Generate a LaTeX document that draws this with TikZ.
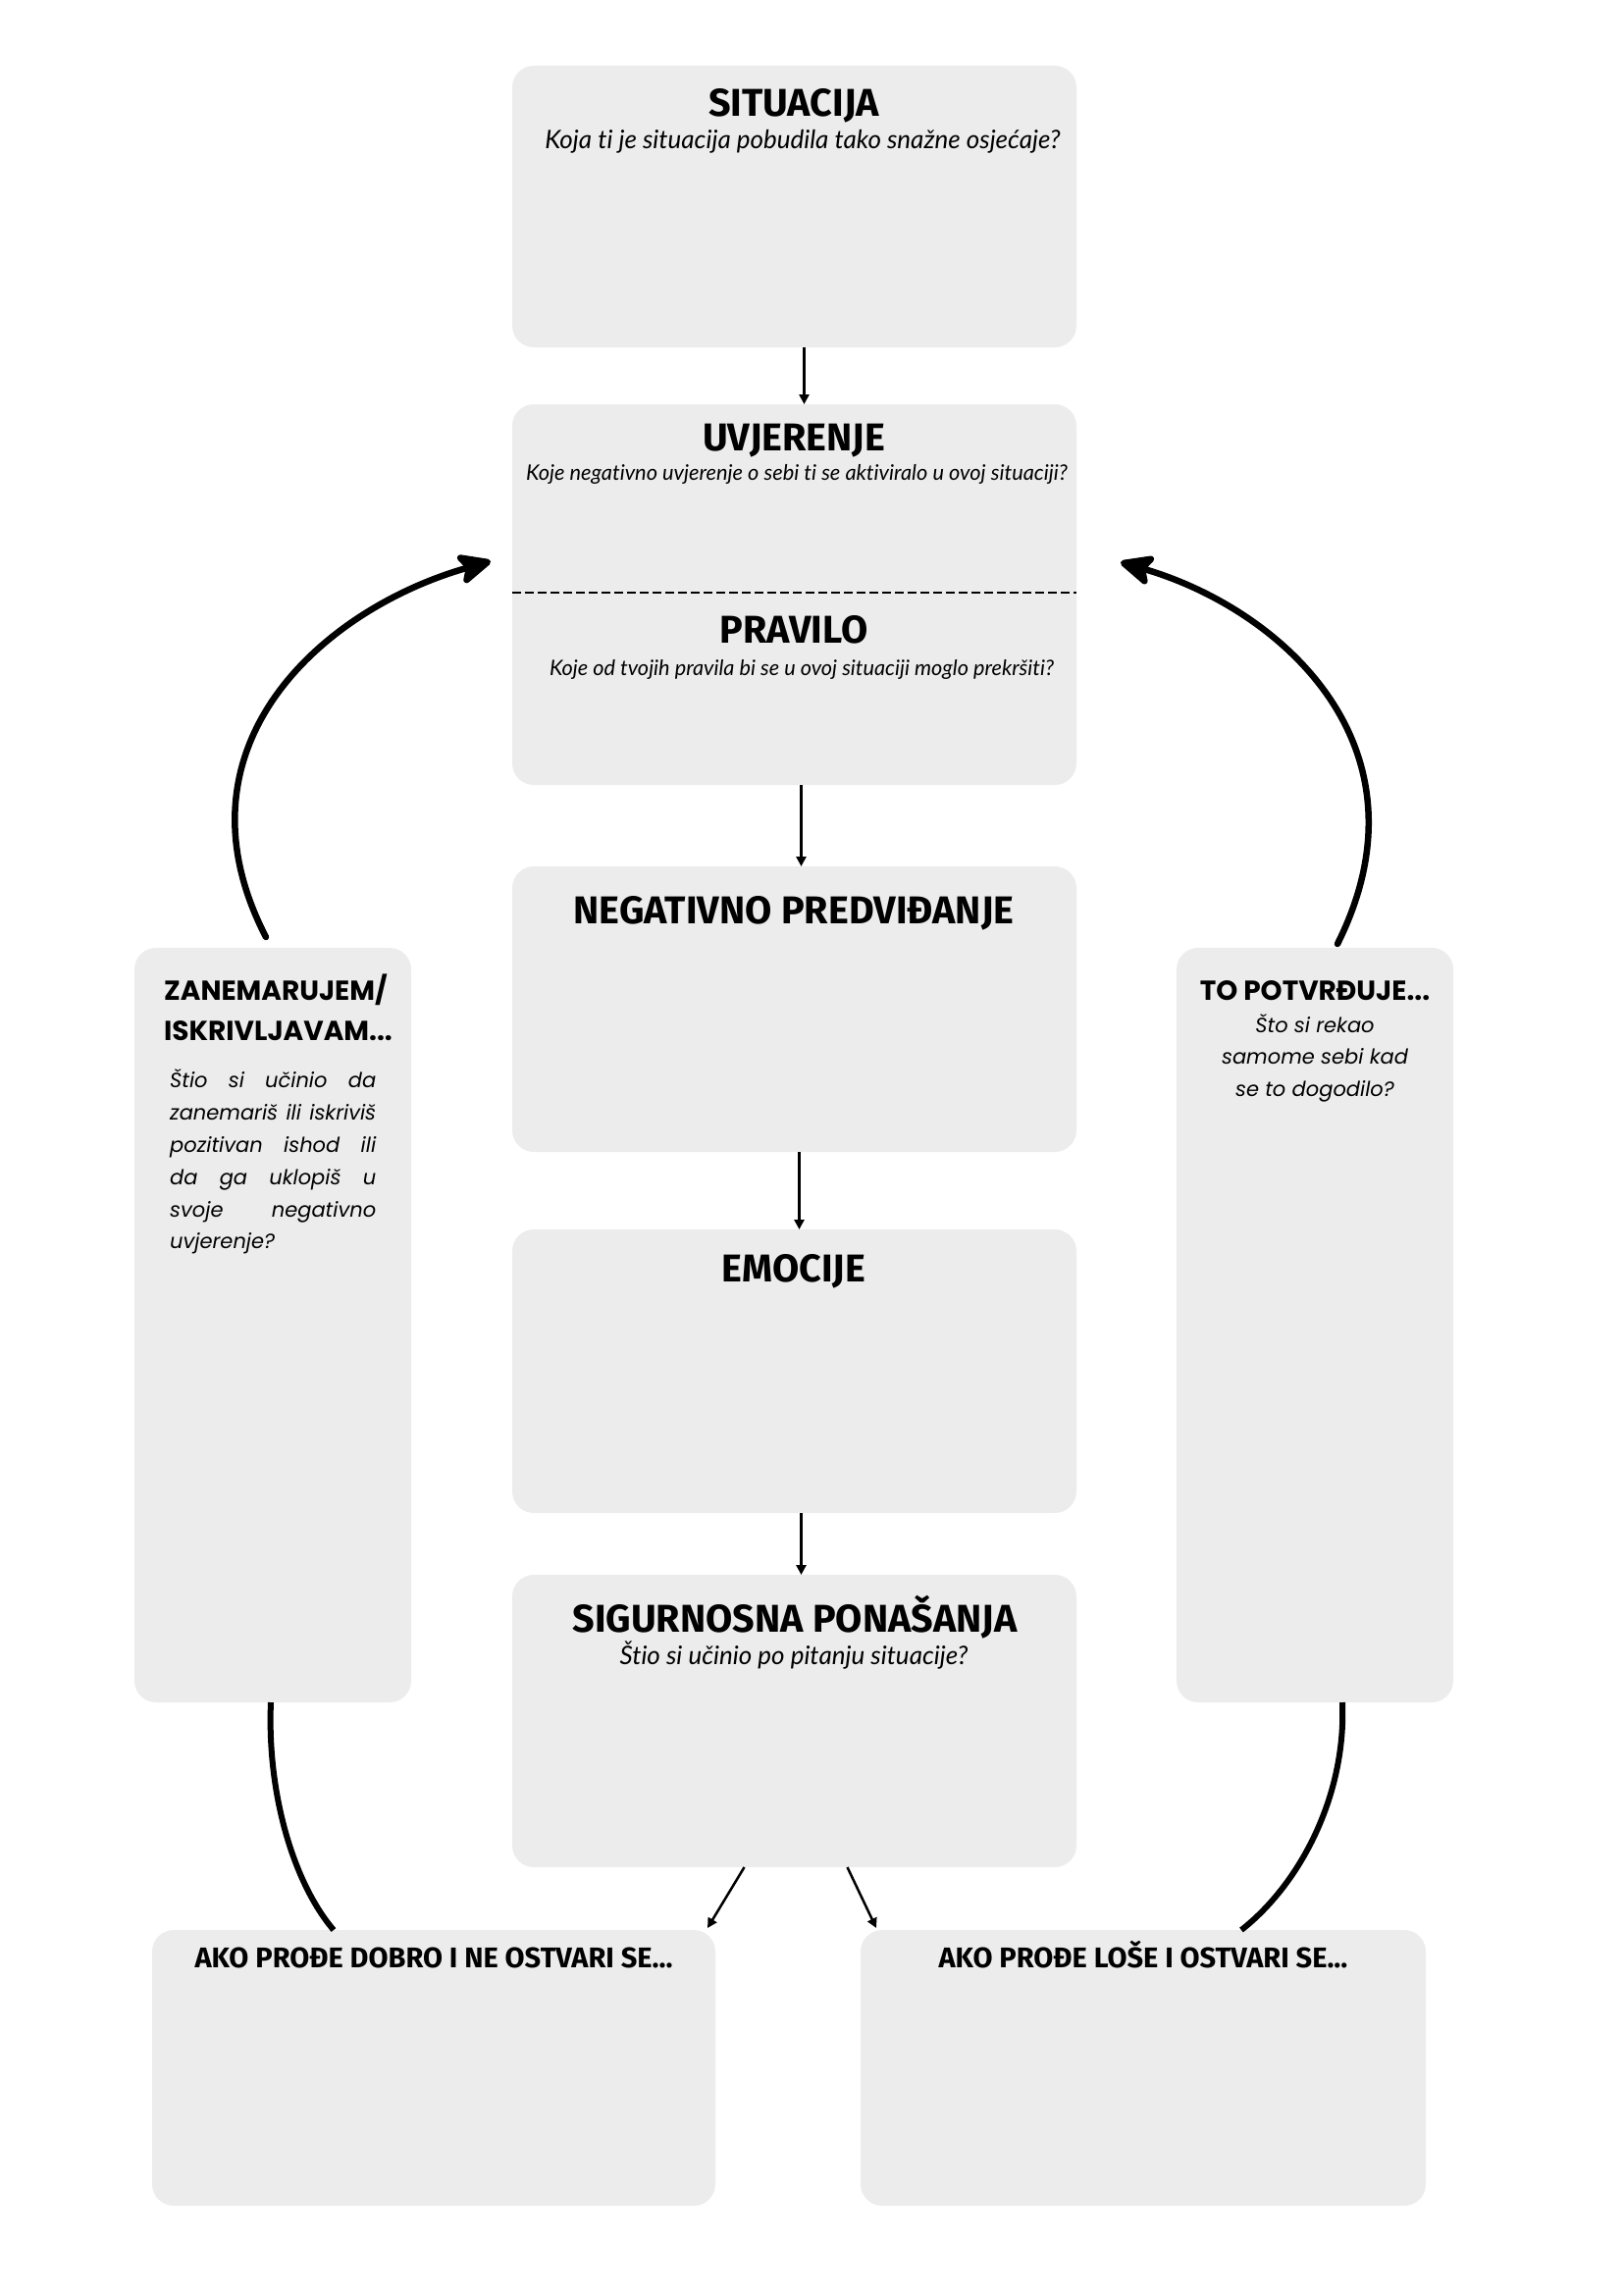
\documentclass[tikz,border=0pt]{standalone}
\usepackage{fontspec}
\usetikzlibrary{arrows.meta}
\newfontfamily\titlef{Fira Sans}
\newfontfamily\qf{Lato}[Ligatures=NoCommon]
\newfontfamily\sidef{Poppins}
\definecolor{boxgray}{RGB}{236,236,236}
\begin{document}
\begin{tikzpicture}[x=1pt,y=-1pt,
  box/.style={fill=boxgray, rounded corners=22pt, inner sep=0pt, outer sep=0pt, anchor=north west},
  ttl/.style={anchor=base, inner sep=0pt, font=\titlef\bfseries\fontsize{39.5}{44}\selectfont},
  btl/.style={anchor=base, inner sep=0pt, font=\titlef\bfseries\fontsize{29}{33}\selectfont},
  qst/.style={anchor=base, inner sep=0pt, font=\qf\itshape\fontsize{26}{30}\selectfont},
  stl/.style={inner sep=0pt, font=\sidef\bfseries\fontsize{28}{32}\selectfont},
  stx/.style={inner sep=0pt, font=\sidef\itshape\fontsize{21}{25}\selectfont},
  flow/.style={line width=2.5pt, -{Triangle[length=10pt,width=10pt]}},
  big/.style={line width=6.5pt, line cap=round, -{Stealth[length=40pt,width=36pt,inset=9pt,round]}},
  loopline/.style={line width=6pt}]
\useasboundingbox (0,0) rectangle (1654,2339);
% boxes
\node[box, minimum width=575pt, minimum height=287pt] (sit) at (522,67) {};
\node[box, minimum width=575pt, minimum height=388pt] (uvj) at (522,412) {};
\node[box, minimum width=575pt, minimum height=291pt] (neg) at (522,883) {};
\node[box, minimum width=575pt, minimum height=289pt] (emo) at (522,1253) {};
\node[box, minimum width=575pt, minimum height=298pt] (sig) at (522,1605) {};
\node[box, minimum width=282pt, minimum height=769pt] (zan) at (137,966) {};
\node[box, minimum width=282pt, minimum height=769pt] (pot) at (1199,966) {};
\node[box, minimum width=574pt, minimum height=281pt] (bl) at (155,1967) {};
\node[box, minimum width=576pt, minimum height=281pt] (br) at (877,1967) {};
% dashed separator
\draw[line width=2pt, dash pattern=on 9pt off 4pt] ([yshift=2pt]uvj.west) -- ([yshift=2pt]uvj.east);
% texts
\node[ttl] (t1) at (809,119) {SITUACIJA};
\node[qst] (q1) at (818,152) {Koja ti je situacija pobudila tako snažne osjećaje?};
\node[ttl] (t2) at (809,459) {UVJERENJE};
\node[qst, font=\qf\itshape\fontsize{21.8}{26}\selectfont] (q2) at (812,489) {Koje negativno uvjerenje o sebi ti se aktiviralo u ovoj situaciji?};
\node[ttl] (t3) at (809,655) {PRAVILO};
\node[qst, font=\qf\itshape\fontsize{21.7}{26}\selectfont] (q3) at (817,688) {Koje od tvojih pravila bi se u ovoj situaciji moglo prekršiti?};
\node[ttl] (t4) at (809,941) {NEGATIVNO PREDVIĐANJE};
\node[ttl] (t5) at (809,1306) {EMOCIJE};
\node[ttl] (t6) at (810,1663) {SIGURNOSNA PONAŠANJA};
\node[qst] (q6) at (809,1696) {Štio si učinio po pitanju situacije?};
% left side box
\node[stl, anchor=base west] (lt1) at (167,1019) {ZANEMARUJEM/};
\node[stl, anchor=base west] (lt2) at (167,1060) {ISKRIVLJAVAM...};
\node[stx, anchor=base west] (lx1) at (173,1108) {\makebox[210pt][s]{Štio si učinio da}};
\node[stx, anchor=base west] (lx2) at (173,1141) {\makebox[210pt][s]{zanemariš ili iskriviš}};
\node[stx, anchor=base west] (lx3) at (173,1174) {\makebox[210pt][s]{pozitivan ishod ili}};
\node[stx, anchor=base west] (lx4) at (173,1207) {\makebox[210pt][s]{da ga uklopiš u}};
\node[stx, anchor=base west] (lx5) at (173,1240) {\makebox[210pt][s]{svoje negativno}};
\node[stx, anchor=base west] (lx6) at (173,1272) {uvjerenje?};
% right side box
\node[stl, anchor=base] (rt1) at (1340,1019) {TO POTVRĐUJE...};
\node[stx, anchor=base] (rx1) at (1340,1052) {Što si rekao};
\node[stx, anchor=base] (rx2) at (1340,1084) {samome sebi kad};
\node[stx, anchor=base] (rx3) at (1340,1117) {se to dogodilo?};
% bottom boxes
\node[btl] (b1) at (442,2005) {AKO PROĐE DOBRO I NE OSTVARI SE...};
\node[btl] (b2) at (1165,2005) {AKO PROĐE LOŠE I OSTVARI SE...};
% small flow arrows
\draw[flow] ([xshift=10pt]sit.south) -- ([xshift=10pt]uvj.north);
\draw[flow] ([xshift=7pt]uvj.south) -- ([xshift=7pt]neg.north);
\draw[flow] ([xshift=5pt]neg.south) -- ([xshift=5pt]emo.north);
\draw[flow] ([xshift=7pt]emo.south) -- ([xshift=7pt]sig.north);
\draw[flow] ([xshift=-51pt]sig.south) -- ([xshift=-8pt,yshift=2pt]bl.north east);
\draw[flow] ([xshift=54pt]sig.south) -- ([xshift=16pt,yshift=2pt]br.north west);
% big curved arrows
\draw[big] ([xshift=-7pt,yshift=11pt]zan.north) .. controls (170,760) and (330,620) .. ([xshift=-22pt,yshift=34pt]uvj.west);
\draw[big] ([xshift=23pt,yshift=4pt]pot.north) .. controls (1464,760) and (1304,620) .. ([xshift=45pt,yshift=33pt]uvj.east);
% lower loop lines
\draw[loopline] ([xshift=-2pt]zan.south) .. controls (272,1830) and (300,1920) .. ([xshift=-102pt]bl.north);
\draw[loopline] ([xshift=28pt]pot.south) .. controls (1372,1830) and (1325,1920) .. ([xshift=100pt]br.north);
\end{tikzpicture}
\end{document}
